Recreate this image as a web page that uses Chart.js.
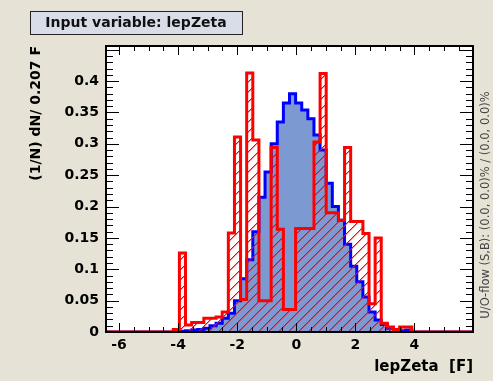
<!DOCTYPE html>
<html>
<head>
<meta charset="utf-8">
<script src="https://cdn.jsdelivr.net/npm/chart.js@4.4.1/dist/chart.umd.min.js"></script>
<style>
  html, body { margin: 0; padding: 0; background: #e6e3d6; }
  #wrap { width: 493px; height: 381px; }
</style>
</head>
<body>
<div id="wrap"><canvas id="chart" width="493" height="381"></canvas></div>
<script>
const varName = 'lepZeta';
const unit = 'F';
const binWidth = 0.207;
const xMin = -6.44;

// normalised bin contents, 60 bins
const signal = [
  0, 0, 0, 0, 0, 0, 0, 0, 0, 0,
  0, 0, 0.001, 0.002, 0.003, 0.004, 0.006, 0.01, 0.014, 0.022,
  0.03, 0.05, 0.085, 0.115, 0.16, 0.215, 0.255, 0.30, 0.335, 0.365,
  0.38, 0.365, 0.354, 0.34, 0.314, 0.29, 0.237, 0.20, 0.178, 0.14,
  0.105, 0.08, 0.056, 0.032, 0.019, 0.012, 0.006, 0.003, 0.002, 0.003,
  0, 0, 0, 0, 0, 0, 0, 0, 0, 0
];
const background = [
  0, 0, 0, 0, 0, 0, 0, 0, 0, 0,
  0, 0.004, 0.126, 0.011, 0.015, 0.015, 0.022, 0.022, 0.024, 0.032,
  0.158, 0.311, 0.052, 0.413, 0.306, 0.05, 0.05, 0.294, 0.164, 0.036,
  0.036, 0.165, 0.165, 0.165, 0.303, 0.412, 0.19, 0.19, 0.178, 0.294,
  0.176, 0.176, 0.157, 0.045, 0.15, 0.014, 0.008, 0.004, 0.008, 0.008,
  0, 0, 0, 0, 0, 0, 0, 0, 0, 0
];

const xTicks = [-6, -4, -2, 0, 2, 4];
const yTicks = [0, 0.05, 0.1, 0.15, 0.2, 0.25, 0.3, 0.35, 0.4];
const yMax = 0.456;
const overflowText = 'U/O-flow (S,B): (0.0, 0.0)% / (0.0, 0.0)%';

const nBins = signal.length;
const xMax = xMin + nBins * binWidth;

// step outline points: one per bin edge, closing back to zero at the end
function steps(vals) {
  const pts = vals.map((v, i) => ({ x: xMin + i * binWidth, y: v }));
  pts.push({ x: xMax, y: 0 });
  return pts;
}

// red "/" hatching: a pixel staircase with a soft second row
function hatch() {
  const c = document.createElement('canvas');
  c.width = 10; c.height = 10;
  const g = c.getContext('2d');
  for (let i = 0; i < 10; i++) {
    g.fillStyle = 'rgb(255,0,0)';
    g.fillRect(i, 9 - i, 1, 1);
    g.fillStyle = 'rgba(255,0,0,0.45)';
    g.fillRect(i, (10 - i) % 10, 1, 1);
  }
  return g.createPattern(c, 'repeat');
}

const boldFont = (size) => ({ family: 'DejaVu Sans', weight: 'bold', size });

const frameDecor = {
  id: 'frameDecor',
  beforeDatasetsDraw(chart) {
    const { ctx, chartArea: a } = chart;
    ctx.save();
    ctx.fillStyle = '#ffffff';
    ctx.fillRect(a.left, a.top, a.right - a.left, a.bottom - a.top);
    ctx.restore();
  },
  afterDraw(chart) {
    const { ctx, chartArea: a, scales: { x, y } } = chart;
    ctx.save();
    ctx.strokeStyle = '#000';
    ctx.lineWidth = 1;
    ctx.beginPath();
    for (let v = Math.ceil(x.min * 2) / 2; v <= x.max; v += 0.5) {
      const px = Math.round(x.getPixelForValue(v)) + 0.5;
      const len = v % 2 === 0 ? 9 : 5;
      ctx.moveTo(px, a.bottom); ctx.lineTo(px, a.bottom - len);
      ctx.moveTo(px, a.top); ctx.lineTo(px, a.top + len);
    }
    for (let k = 0; k * 0.01 <= y.max; k++) {
      const py = Math.round(y.getPixelForValue(k * 0.01)) + 0.5;
      const len = k % 5 === 0 ? 13 : 7;
      ctx.moveTo(a.left, py); ctx.lineTo(a.left + len, py);
      ctx.moveTo(a.right, py); ctx.lineTo(a.right - len, py);
    }
    ctx.stroke();
    ctx.lineWidth = 2;
    ctx.strokeRect(a.left, a.top, a.right - a.left, a.bottom - a.top);

    // title box
    ctx.fillStyle = '#d9dde8';
    ctx.fillRect(30, 11, 212, 23);
    ctx.lineWidth = 1;
    ctx.strokeStyle = '#222';
    ctx.strokeRect(30.5, 11.5, 212, 23);
    ctx.fillStyle = '#111';
    ctx.font = 'bold 14px "DejaVu Sans"';
    ctx.textAlign = 'center';
    ctx.textBaseline = 'middle';
    ctx.fillText('Input variable: ' + varName, 136, 23);

    // under/overflow note
    ctx.translate(486, 205);
    ctx.rotate(-Math.PI / 2);
    ctx.font = '11.5px "DejaVu Sans"';
    ctx.fillStyle = '#444';
    ctx.fillText(overflowText, 0, 0);
    ctx.restore();
  }
};

new Chart(document.getElementById('chart'), {
  type: 'line',
  data: {
    datasets: [
      {
        label: 'Background',
        data: steps(background),
        stepped: 'before',
        borderColor: '#ff0000',
        borderWidth: 3,
        backgroundColor: hatch(),
        fill: 'origin',
        pointRadius: 0,
        order: 0
      },
      {
        label: 'Signal',
        data: steps(signal),
        stepped: 'before',
        borderColor: '#0000ff',
        borderWidth: 3,
        backgroundColor: '#7d99d1',
        fill: 'origin',
        pointRadius: 0,
        order: 1
      }
    ]
  },
  options: {
    responsive: false,
    animation: false,
    layout: { padding: { top: 46, right: 20, left: 0, bottom: 0 } },
    plugins: { legend: { display: false }, tooltip: { enabled: false } },
    scales: {
      x: {
        type: 'linear',
        min: xMin,
        max: xMax,
        afterBuildTicks: (s) => { s.ticks = xTicks.map((v) => ({ value: v })); },
        afterFit: (s) => { s.height = 49; },
        grid: { display: false, drawTicks: false },
        border: { display: false },
        ticks: { color: '#000', font: boldFont(14), padding: 5, maxRotation: 0, autoSkip: false, callback: (v) => String(v) },
        title: { display: true, text: varName + '  [' + unit + ']', align: 'end', color: '#000', font: boldFont(15), padding: { top: 0, bottom: 5 } }
      },
      y: {
        min: 0,
        max: yMax,
        afterBuildTicks: (s) => { s.ticks = yTicks.map((v) => ({ value: v })); },
        afterFit: (s) => { s.width = 106; },
        grid: { display: false, drawTicks: false },
        border: { display: false },
        ticks: { color: '#000', font: boldFont(14), padding: 7, autoSkip: false, callback: (v) => String(v) },
        title: { display: true, text: '(1/N) dN/ ' + binWidth + ' ' + unit, align: 'end', color: '#000', font: boldFont(14), padding: { top: 28, bottom: 0 } }
      }
    }
  },
  plugins: [frameDecor]
});
</script>
</body>
</html>
